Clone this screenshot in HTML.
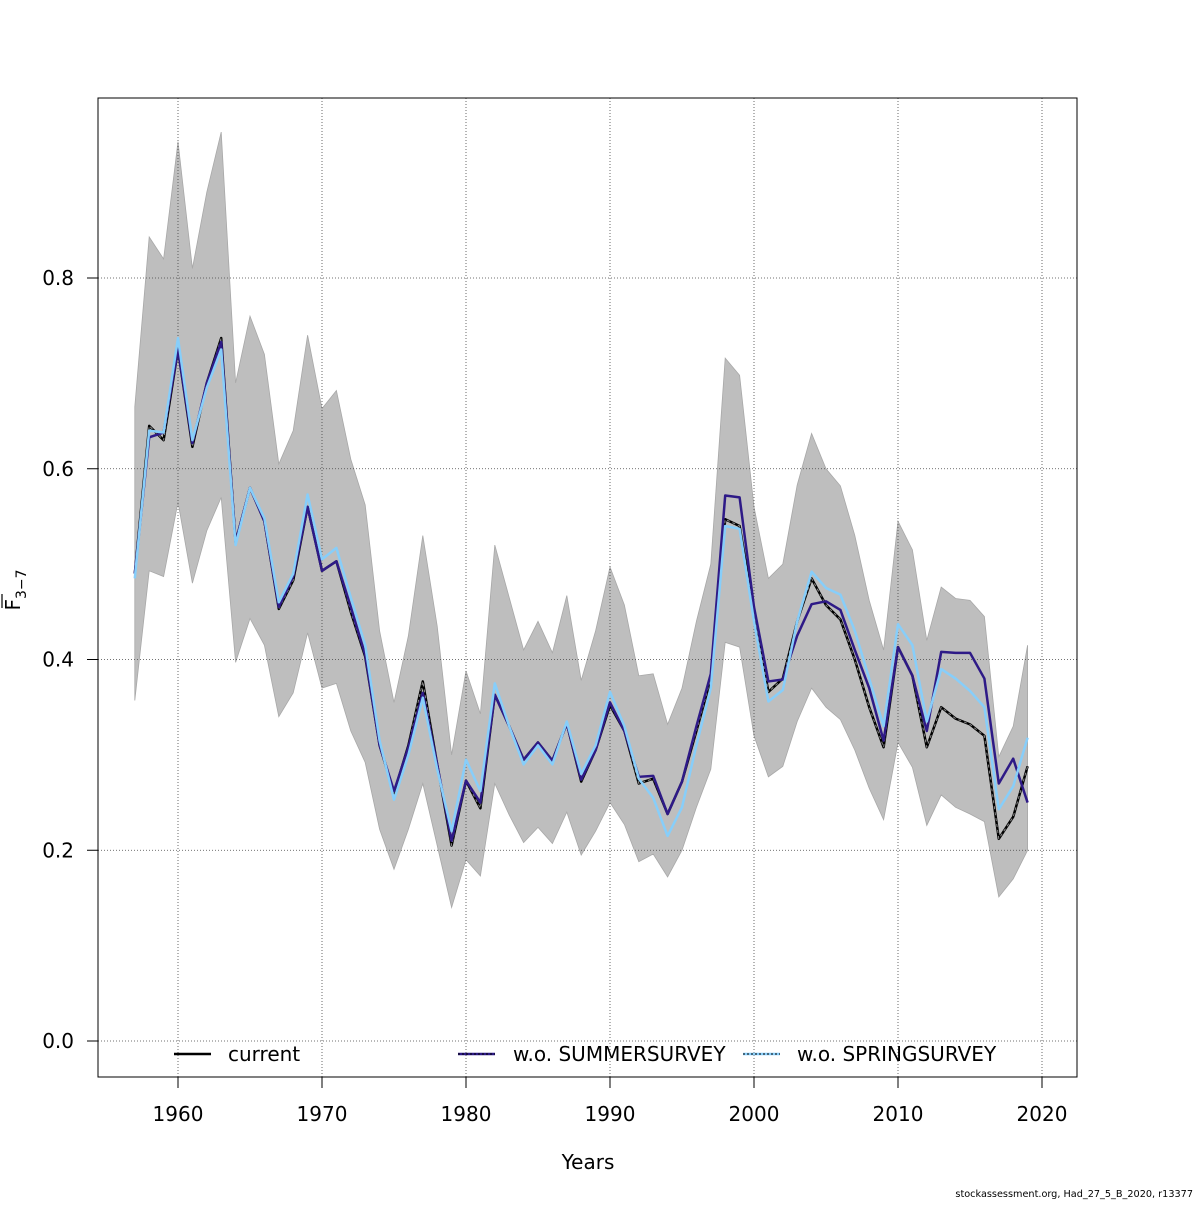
<!DOCTYPE html>
<html><head><meta charset="utf-8"><style>
body{margin:0;background:#fff;}
svg text{font-family:"DejaVu Sans","Liberation Sans",sans-serif;}
</style></head><body>
<svg id="chart" width="1200" height="1200" viewBox="0 0 1200 1200" xmlns="http://www.w3.org/2000/svg"></svg>
<script>
const years=[];for(let y=1957;y<=2019;y++)years.push(y);
const current=[0.49,0.645,0.63,0.725,0.623,0.69,0.737,0.523,0.58,0.545,0.453,0.483,0.56,0.493,0.503,0.45,0.403,0.31,0.26,0.31,0.377,0.29,0.205,0.273,0.244,0.363,0.33,0.295,0.313,0.294,0.333,0.272,0.305,0.352,0.325,0.27,0.275,0.238,0.272,0.325,0.38,0.547,0.54,0.45,0.366,0.38,0.44,0.485,0.457,0.442,0.4,0.35,0.308,0.413,0.383,0.308,0.35,0.338,0.332,0.32,0.212,0.235,0.288];
const summer=[0.49,0.633,0.638,0.725,0.627,0.69,0.733,0.523,0.58,0.545,0.455,0.487,0.56,0.493,0.503,0.455,0.405,0.31,0.262,0.308,0.365,0.29,0.21,0.273,0.25,0.363,0.33,0.295,0.313,0.294,0.333,0.274,0.305,0.355,0.325,0.277,0.278,0.238,0.272,0.33,0.385,0.572,0.57,0.455,0.377,0.379,0.425,0.458,0.461,0.452,0.41,0.37,0.315,0.413,0.383,0.325,0.408,0.407,0.407,0.38,0.27,0.296,0.25];
const spring=[0.485,0.64,0.638,0.737,0.63,0.685,0.725,0.52,0.58,0.548,0.46,0.49,0.573,0.505,0.517,0.465,0.415,0.315,0.253,0.3,0.36,0.285,0.22,0.295,0.262,0.375,0.33,0.29,0.31,0.29,0.335,0.28,0.31,0.366,0.33,0.275,0.255,0.215,0.245,0.31,0.37,0.54,0.537,0.44,0.356,0.368,0.44,0.492,0.475,0.468,0.43,0.38,0.33,0.437,0.415,0.335,0.39,0.38,0.367,0.35,0.243,0.267,0.318];
const upper=[0.665,0.843,0.82,0.943,0.81,0.89,0.953,0.69,0.76,0.72,0.605,0.64,0.74,0.663,0.682,0.61,0.562,0.43,0.355,0.425,0.53,0.435,0.3,0.388,0.343,0.52,0.465,0.41,0.44,0.407,0.467,0.378,0.43,0.497,0.457,0.383,0.385,0.332,0.37,0.44,0.5,0.716,0.698,0.56,0.485,0.5,0.583,0.637,0.6,0.582,0.53,0.462,0.41,0.545,0.515,0.42,0.476,0.464,0.462,0.445,0.298,0.33,0.415];
const lower=[0.357,0.493,0.487,0.565,0.48,0.535,0.57,0.397,0.443,0.415,0.34,0.365,0.428,0.37,0.375,0.325,0.292,0.222,0.18,0.222,0.27,0.205,0.14,0.19,0.173,0.27,0.237,0.208,0.224,0.207,0.24,0.195,0.22,0.25,0.227,0.188,0.196,0.172,0.2,0.245,0.285,0.418,0.413,0.32,0.277,0.288,0.335,0.37,0.35,0.337,0.305,0.265,0.232,0.313,0.287,0.226,0.258,0.245,0.238,0.23,0.151,0.17,0.2];
const xTicks=[1960,1970,1980,1990,2000,2010,2020];
const yTicks=[0.0,0.2,0.4,0.6,0.8];

const svg=document.getElementById('chart');
const NS='http://www.w3.org/2000/svg';
const X=v=>178+(v-1960)*14.4;
const Y=v=>1041-v*953.75;
function mk(tag,attrs,parent){const e=document.createElementNS(NS,tag);for(const k in attrs)e.setAttribute(k,attrs[k]);(parent||svg).appendChild(e);return e;}

let d='M'+years.map((y,i)=>X(y)+','+Y(upper[i])).join('L');
for(let i=years.length-1;i>=0;i--)d+='L'+X(years[i])+','+Y(lower[i]);
const band=mk('path',{d:d+'Z',fill:'#bebebe',stroke:'#a8a8a8','stroke-width':0.8});



xTicks.forEach(t=>{const g=mk('line',{x1:X(t),x2:X(t),y1:98,y2:1077,stroke:'#444','stroke-width':0.8,'stroke-dasharray':'1,2'});

});
yTicks.forEach(t=>{const g=mk('line',{x1:98,x2:1077,y1:Y(t),y2:Y(t),stroke:'#444','stroke-width':0.8,'stroke-dasharray':'1,2'});

});

function line(arr,attrs,name){const p=mk('polyline',Object.assign({points:years.map((y,i)=>X(y)+','+Y(arr[i])).join(' '),fill:'none','stroke-linejoin':'round'},attrs));

}
line(current,{stroke:'#000','stroke-width':2.5},'line-current');
line(current,{stroke:'#888','stroke-width':1,'stroke-dasharray':'3,3'},'line-current-dash');
line(summer,{stroke:'#2e1a87','stroke-width':2.5},'line-wo-summersurvey');
line(spring,{stroke:'#87cefa','stroke-width':2.5},'line-wo-springsurvey');

const fr=mk('rect',{x:98,y:98,width:979,height:979,fill:'none',stroke:'#000','stroke-width':1});



const ax=mk('line',{x1:X(1960),x2:X(2020),y1:1077,y2:1077,stroke:'#000'});


xTicks.forEach(t=>{mk('line',{x1:X(t),x2:X(t),y1:1077,y2:1088,stroke:'#000'});
const tx=mk('text',{x:X(t),y:1121,'font-size':20,'text-anchor':'middle'});tx.textContent=t;

});
const ay=mk('line',{x1:98,x2:98,y1:Y(0),y2:Y(0.8),stroke:'#000'});


yTicks.forEach(t=>{mk('line',{x1:87,x2:98,y1:Y(t),y2:Y(t),stroke:'#000'});
const tx=mk('text',{x:74,y:Y(t)+7,'font-size':20,'text-anchor':'end'});tx.textContent=t.toFixed(1);

});

const xt=mk('text',{x:588,y:1169,'font-size':20,'text-anchor':'middle'});xt.textContent='Years';


const yt=mk('text',{transform:'translate(20,590) rotate(-90)','font-size':20,'text-anchor':'middle'});
yt.innerHTML='F<tspan font-size="14" dy="6">3−7</tspan>';


mk('line',{x1:2,x2:2,y1:608,y2:594,stroke:'#000','stroke-width':1.2});

[['current','#000',174,228],['w.o. SUMMERSURVEY','#2e1a87',458,513],['w.o. SPRINGSURVEY','#87cefa',743,797]].forEach(l=>{
const g=mk('g',{});


mk('line',{x1:l[2],x2:l[2]+37,y1:1054,y2:1054,stroke:l[1],'stroke-width':2.5},g);
if(l[0]!=='current')mk('line',{x1:l[2],x2:l[2]+37,y1:1054,y2:1054,stroke:'#000','stroke-width':1,'stroke-dasharray':'2,2'},g);
const t=mk('text',{x:l[3],y:1061,'font-size':20},g);t.textContent=l[0];});

const ft=mk('text',{x:1193,y:1197,'font-size':9.7,'text-anchor':'end'});ft.textContent='stockassessment.org, Had_27_5_B_2020, r13377';


</script>
</body></html>
